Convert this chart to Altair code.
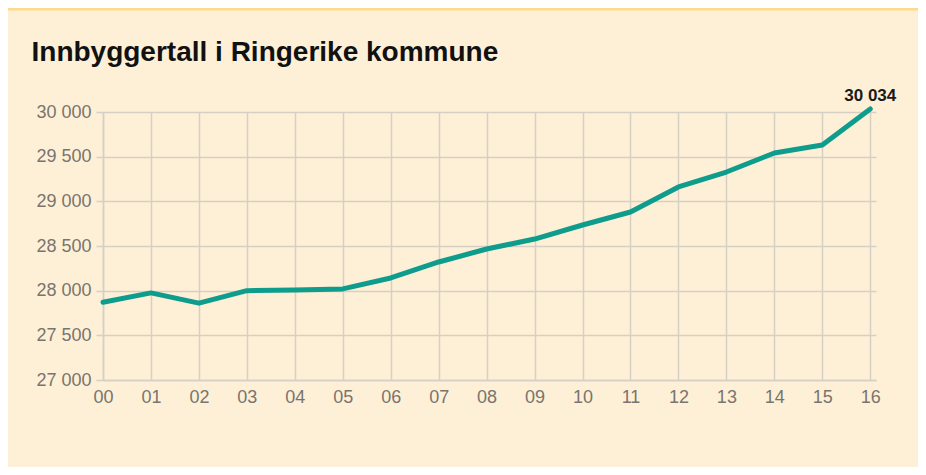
import altair as alt
import pandas as pd

years = list(range(0, 17))
year_labels = ["00", "01", "02", "03", "04", "05", "06", "07", "08", "09", "10", "11", "12", "13", "14", "15", "16"]
population = [27870, 27975, 27860, 28000, 28008, 28020, 28142, 28321, 28466, 28578,
              28735, 28881, 29161, 29328, 29541, 29631, 30034]
title_text = "Innbyggertall i Ringerike kommune"
end_label = "30 034"

df = pd.DataFrame({"year": years, "pop": population})
df_end = df.tail(1).assign(label=end_label)

BG = "#FEF0D6"
GRID = "#D6CFC6"
LABEL = "#7A746E"
LINE = "#0E9C8C"

x = alt.X("year:Q",
          scale=alt.Scale(domain=[0, 16.12], nice=False, zero=False),
          axis=alt.Axis(values=years, labelExpr="datum.value < 10 ? '0' + datum.value : '' + datum.value",
                        title=None, grid=True, tickSize=0, labelPadding=8, labelFlush=False))
y = alt.Y("pop:Q",
          scale=alt.Scale(domain=[27000, 30000], nice=False, zero=False),
          axis=alt.Axis(values=[27000, 27500, 28000, 28500, 29000, 29500, 30000],
                        labelExpr="replace(format(datum.value, ','), ',', ' ')",
                        title=None, grid=True, tickSize=7, labelPadding=5, labelFlush=False))

line = alt.Chart(df).mark_line(color=LINE, strokeWidth=5, strokeCap="round", strokeJoin="round").encode(x=x, y=y)

label = alt.Chart(df_end).mark_text(font="Liberation Sans", fontSize=17, fontWeight="bold",
                                    color="#1a1a1a", align="center", baseline="alphabetic", dy=-8).encode(
    x="year:Q", y="pop:Q", text="label:N")

strip = alt.Chart(df_end).mark_rule(color="#FDD98A", strokeWidth=3).encode(
    x=alt.value(-100), x2=alt.value(900), y=alt.value(-103))

chart = alt.layer(strip, line, label).properties(
    width=773, height=268,
    title=alt.TitleParams(title_text, anchor="start", dx=30, dy=81, fontSize=28, fontWeight="bold",
                          font="Liberation Sans", color="#111111", offset=0, baseline="alphabetic"),
    background=BG,
    padding={"left": 95, "top": 104, "right": 42, "bottom": 87},
    autosize=alt.AutoSizeParams(type="none"),
).configure_axis(
    gridColor=GRID, gridWidth=1.5, domainColor=GRID, domainWidth=1.5, tickColor=GRID, tickWidth=1.5,
    labelFont="Liberation Sans", labelFontSize=18, labelColor=LABEL,
).configure_view(stroke=None)

chart.save("out.html", embed_options={"renderer": "svg", "actions": False})
